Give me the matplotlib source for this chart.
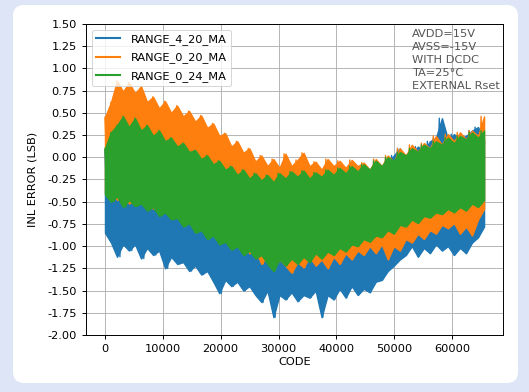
import numpy as np
import matplotlib
matplotlib.use("Agg")
import matplotlib.pyplot as plt
from matplotlib.patches import FancyBboxPatch

# INL band: local maxima / minima per ~1024-code slot
labels = ["RANGE_4_20_MA", "RANGE_0_20_MA", "RANGE_0_24_MA"]
colors = ["#1f77b4", "#ff7f0e", "#2ca02c"]

blue_hi = [0.08, -0.30, -0.25, -0.30, -0.28, -0.32, -0.35, -0.38, -0.40, -0.42,
           -0.45, -0.48, -0.52, -0.55, -0.58, -0.62, -0.65, -0.68, -0.70, -0.72,
           -0.75, -0.78, -0.80, -0.82, -0.85, -0.86, -0.88, -0.88, -0.90, -0.90,
           -0.88, -0.88, -0.86, -0.85, -0.84, -0.82, -0.80, -0.78, -0.75, -0.70,
           -0.65, -0.55, -0.45, -0.35, -0.25, -0.18, -0.10, -0.05, 0.02, 0.10,
           -0.02, 0.04, 0.12, 0.08, 0.18, 0.22, 0.44, 0.20, 0.26, 0.22,
           0.24, 0.30, 0.34, 0.20]
blue_lo = [-0.85, -0.96, -1.12, -0.98, -1.05, -0.98, -1.14, -1.02, -1.10, -1.05,
           -1.25, -1.12, -1.20, -1.18, -1.28, -1.22, -1.32, -1.28, -1.40, -1.53,
           -1.38, -1.45, -1.40, -1.50, -1.45, -1.55, -1.63, -1.50, -1.80, -1.55,
           -1.60, -1.52, -1.62, -1.55, -1.58, -1.50, -1.80, -1.55, -1.60, -1.48,
           -1.58, -1.45, -1.55, -1.48, -1.52, -1.40, -1.38, -1.28, -1.22, -1.15,
           -1.10, -1.00, -1.12, -1.02, -1.08, -0.98, -1.05, -1.00, -1.10, -1.02,
           -1.08, -0.96, -0.90, -0.78]

orange_hi = [0.45, 0.62, 0.86, 0.74, 0.84, 0.72, 0.80, 0.62, 0.68, 0.55,
             0.63, 0.50, 0.58, 0.46, 0.52, 0.40, 0.47, 0.33, 0.38, 0.24,
             0.27, 0.12, 0.18, 0.05, 0.10, -0.05, 0.02, -0.10, -0.02, -0.12,
             0.04, -0.10, -0.03, 0.05, -0.10, -0.05, -0.14, -0.02, -0.10, -0.04,
             -0.12, -0.03, -0.10, -0.06, -0.14, -0.02, -0.10, 0.02, -0.05, 0.10,
             0.02, 0.14, 0.06, 0.16, 0.10, 0.24, 0.14, 0.26, 0.18, 0.28,
             0.20, 0.30, 0.24, 0.46]
orange_lo = [-0.40, -0.35, -0.48, -0.42, -0.52, -0.45, -0.50, -0.48, -0.58, -0.52,
             -0.62, -0.56, -0.66, -0.64, -0.74, -0.70, -0.80, -0.78, -0.88, -0.86,
             -0.95, -0.92, -1.00, -0.98, -1.08, -1.05, -1.20, -1.10, -1.26, -1.15,
             -1.22, -1.30, -1.18, -1.24, -1.12, -1.22, -1.15, -1.25, -1.12, -1.20,
             -1.08, -1.15, -1.05, -1.10, -1.00, -1.08, -0.98, -1.15, -1.00, -1.05,
             -0.92, -0.96, -0.86, -0.92, -0.82, -0.86, -0.76, -0.80, -0.74, -0.86,
             -0.78, -0.88, -0.70, -0.58]

green_hi = [0.10, 0.28, 0.36, 0.46, 0.34, 0.44, 0.30, 0.36, 0.24, 0.30,
            0.18, 0.22, 0.12, 0.16, 0.06, 0.08, -0.02, 0.02, -0.08, -0.04,
            -0.14, -0.10, -0.20, -0.14, -0.24, -0.18, -0.26, -0.20, -0.28, -0.18,
            -0.24, -0.16, -0.22, -0.15, -0.24, -0.17, -0.22, -0.14, -0.20, -0.12,
            -0.18, -0.10, -0.16, -0.08, -0.14, -0.04, -0.10, 0.00, -0.04, 0.06,
            0.02, 0.10, 0.06, 0.14, 0.10, 0.18, 0.14, 0.22, 0.16, 0.24,
            0.20, 0.28, 0.22, 0.30]
green_lo = [-0.42, -0.50, -0.44, -0.56, -0.48, -0.55, -0.52, -0.60, -0.56, -0.66,
            -0.62, -0.70, -0.68, -0.78, -0.74, -0.85, -0.82, -0.92, -0.88, -0.98,
            -0.95, -1.04, -1.00, -1.10, -1.05, -1.14, -1.10, -1.20, -1.28, -1.15,
            -1.22, -1.14, -1.20, -1.12, -1.18, -1.08, -1.14, -1.06, -1.10, -1.02,
            -1.06, -0.98, -1.00, -0.92, -0.95, -0.88, -0.90, -0.82, -0.86, -0.76,
            -0.78, -0.70, -0.74, -0.66, -0.68, -0.62, -0.64, -0.58, -0.62, -0.56,
            -0.60, -0.52, -0.56, -0.48]

note = "AVDD=15V\nAVSS=-15V\nWITH DCDC\nTA=25\u00b0C\nEXTERNAL Rset"

bands = [(blue_hi, blue_lo), (orange_hi, orange_lo), (green_hi, green_lo)]
slots = np.linspace(0, 65535, len(blue_hi))

fig = plt.figure(figsize=(5.29, 3.92), dpi=100)
fig.patch.set_facecolor("#dde5f7")
card = FancyBboxPatch((0.13, 0.09), 5.05, 3.78,
                      boxstyle="round,pad=0,rounding_size=0.11",
                      transform=fig.dpi_scale_trans,
                      facecolor="white", edgecolor="none", zorder=-5)
fig.patches.append(card)

ax = fig.add_axes([0.1626, 0.1454, 0.7883, 0.7934])
for i, ((hi, lo), c, lab) in enumerate(zip(bands, colors, labels)):
    z = 2 + i
    # dense noise trace -> solid band between the read maxima and minima
    ax.fill_between(slots, lo, hi, color=c, lw=1.0, edgecolor=c, zorder=z)
    # zig-zag between max and min for the spiky edge + legend handle
    zz = np.empty(2 * len(hi))
    zz[0::2] = hi
    zz[1::2] = lo
    ax.plot(np.linspace(0, 65535, len(zz)), zz, color=c, lw=1.0,
            label=lab, zorder=z)

ax.set_ylim(-2.0, 1.5)
ax.set_yticks(np.arange(-2.0, 1.51, 0.25))
ax.yaxis.set_major_formatter(matplotlib.ticker.FormatStrFormatter("%.2f"))
ax.set_xticks([0, 10000, 20000, 30000, 40000, 50000, 60000])
ax.tick_params(labelsize=8.2, length=3, width=0.7)
ax.set_xlabel("CODE", fontsize=8.2, labelpad=2)
ax.set_ylabel("INL ERROR (LSB)", fontsize=8.2, labelpad=7)
ax.grid(True, color="#b0b0b0", lw=0.65)
ax.set_axisbelow(True)
for s in ax.spines.values():
    s.set_linewidth(0.7)

leg = ax.legend(loc="upper left", fontsize=8.2, handlelength=2.1,
                borderpad=0.4, labelspacing=0.65, handletextpad=0.9)
leg.set_zorder(10)
for h in leg.get_lines():
    h.set_linewidth(1.5)
leg.get_frame().set_linewidth(0.7)

ax.text(0.781, 0.985, note, transform=ax.transAxes, ha="left", va="top",
        fontsize=8.2, color="#555555", linespacing=1.4, zorder=10)

fig.savefig("out.png", dpi=100, facecolor=fig.get_facecolor())
